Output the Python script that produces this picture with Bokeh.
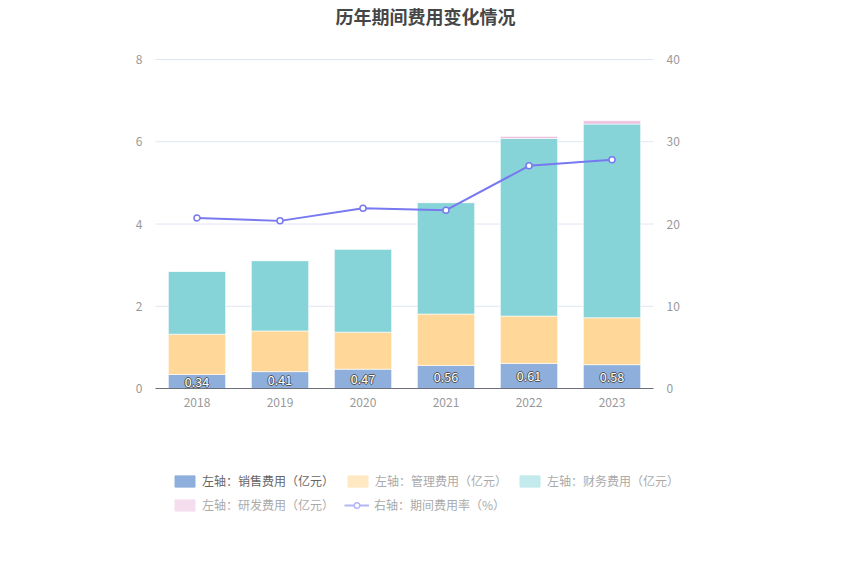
from bokeh.plotting import figure
from bokeh.models import (ColumnDataSource, Range1d, LinearAxis, Legend, LegendItem,
                          FixedTicker)
from bokeh.core.properties import value
from bokeh.embed import file_html
from bokeh.resources import INLINE

years = ["2018", "2019", "2020", "2021", "2022", "2023"]
sales = [0.34, 0.41, 0.47, 0.56, 0.61, 0.58]
mgmt = [0.98, 0.99, 0.90, 1.25, 1.15, 1.14]
finance = [1.53, 1.71, 2.02, 2.71, 4.32, 4.71]
rnd = [0.0, 0.0, 0.0, 0.01, 0.05, 0.08]
rate = [20.74, 20.38, 21.92, 21.68, 27.07, 27.80]
sales_labels = ["0.34", "0.41", "0.47", "0.56", "0.61", "0.58"]

left_ticks = [0, 2, 4, 6, 8]
right_ticks = [0, 10, 20, 30, 40]

names = ["sales", "mgmt", "finance", "rnd"]
colors = ["#8EAEDC", "#FFD899", "#87D4D8", "#EBC0E0"]
faded = ["#8EAEDC", "#FFE8C2", "#C3EAEC", "#F3DDEE"]
labels = ["左轴：销售费用（亿元）", "左轴：管理费用（亿元）", "左轴：财务费用（亿元）",
          "左轴：研发费用（亿元）", "右轴：期间费用率（%）"]
line_color = "#7878F0"
FONT = "Noto Sans CJK SC"

n = len(years)
xs = list(range(n))
src = ColumnDataSource(dict(x=xs, sales=sales, mgmt=mgmt, finance=finance, rnd=rnd,
                            rate=rate, lab=sales_labels,
                            laby=[s / 2 for s in sales]))

# layout (pixels): category band 83 wide starting at x=155; value axis 0 at y=388, max at y=59
BAND = 83.0
W, H = 842, 560
TOP = 28            # frame top (below the title)
AX_TOP, AX_BOT = 59, 388
x_lo = -0.5 - 155 / BAND
x_hi = x_lo + W / BAND
lmax, rmax = left_ticks[-1], right_ticks[-1]
lpx = (AX_BOT - AX_TOP) / lmax
rpx = (AX_BOT - AX_TOP) / rmax
y_lo, y_hi = -(H - AX_BOT) / lpx, lmax + (AX_TOP - TOP) / lpx
r_lo, r_hi = -(H - AX_BOT) / rpx, rmax + (AX_TOP - TOP) / rpx

p = figure(width=W, height=H, x_range=Range1d(x_lo, x_hi),
           y_range=Range1d(y_lo, y_hi), output_backend="svg", toolbar_location=None,
           min_border_left=0, min_border_right=0, min_border_top=TOP,
           min_border_bottom=0)
p.title.text = "历年期间费用变化情况"
p.title.align = "left"
p.title.offset = 335
p.title.text_font = FONT
p.title.text_font_size = "18px"
p.title.text_color = "#464646"
p.title.standoff = 0
p.outline_line_color = None
p.background_fill_color = "white"
p.xgrid.visible = False
p.ygrid.visible = False

p.extra_y_ranges = {"right": Range1d(r_lo, r_hi), "hidden": Range1d(1000, 1001)}

# grid lines across the category area
grid_src = ColumnDataSource(dict(y=left_ticks[1:]))
p.segment(x0=-0.5, x1=n - 0.5, y0="y", y1="y", source=grid_src,
          line_color="#E0E6F1", line_width=1)

bars = p.vbar_stack(names, x="x", width=0.69, color=colors, source=src,
                    line_color="white", line_alpha=0.6, line_width=1)

line = p.line("x", "rate", source=src, y_range_name="right", color=line_color,
              line_width=2)
pts = p.scatter("x", "rate", source=src, y_range_name="right", size=6,
                line_color=line_color, fill_color="white", line_width=1.5)

# bar labels with dark outline
for dx, dy in [(-1, 0), (1, 0), (0, -1), (0, 1)]:
    p.text("x", "laby", text="lab", source=src, text_align="center",
           text_baseline="middle", text_font=value(FONT), text_font_size="12.5px",
           text_color="#555555", x_offset=dx, y_offset=dy)
p.text("x", "laby", text="lab", source=src, text_align="center",
       text_baseline="middle", text_font=value(FONT), text_font_size="12.5px",
       text_color="white")

# axes
p.yaxis.ticker = FixedTicker(ticks=left_ticks)
p.yaxis.fixed_location = -0.5
ax_r = LinearAxis(y_range_name="right", ticker=FixedTicker(ticks=right_ticks),
                  fixed_location=n - 0.5)
p.add_layout(ax_r, "right")
for ax in [p.yaxis[0], ax_r]:
    ax.axis_line_color = None
    ax.major_tick_line_color = None
    ax.minor_tick_line_color = None
    ax.major_label_text_color = "#999999"
    ax.major_label_text_font = FONT
    ax.major_label_text_font_size = "12px"
    ax.major_label_standoff = 7
p.xaxis.fixed_location = 0
p.xaxis.bounds = (-0.5, n - 0.5)
p.xaxis.ticker = FixedTicker(ticks=xs)
p.xaxis.major_label_overrides = {i: y for i, y in enumerate(years)}
p.xaxis.axis_line_color = "#6E7079"
p.xaxis.major_tick_line_color = None
p.xaxis.minor_tick_line_color = None
p.xaxis.major_label_text_color = "#999999"
p.xaxis.major_label_text_font = FONT
p.xaxis.major_label_text_font_size = "12px"
p.xaxis.major_label_standoff = 3

# legend proxies: faded copies drawn on a range where they fall outside the frame
proxies = []
for i in range(4):
    r = p.vbar(x="x", top=names[i], width=0.5, source=src, y_range_name="hidden",
               color=faded[i])
    proxies.append(r)
lp_line = p.line("x", "rate", source=src, y_range_name="hidden",
                 color="#B4B4F8", line_width=2)
lp_pt = p.scatter("x", "rate", source=src, y_range_name="hidden", size=10,
                  line_color="#B4B4F8", fill_color="white", line_width=1.5)


def mk_legend(items, loc, text_color):
    lg = Legend(items=items, location=loc, orientation="horizontal",
                label_text_font=FONT, label_text_font_size="12px",
                label_text_color=text_color, glyph_width=25, glyph_height=14,
                label_standoff=5, spacing=10, padding=0, margin=0,
                border_line_color=None, background_fill_alpha=0,
                label_height=14)
    p.add_layout(lg, "center")
    return lg


# location = bottom-left of the legend, pixels from the frame's bottom-left
mk_legend([LegendItem(label=labels[0], renderers=[proxies[0]])], (172, 71), "#666666")
mk_legend([LegendItem(label=labels[1], renderers=[proxies[1]]),
           LegendItem(label=labels[2], renderers=[proxies[2]])], (345, 71), "#AAAAAA")
mk_legend([LegendItem(label=labels[3], renderers=[proxies[3]]),
           LegendItem(label=labels[4], renderers=[lp_line, lp_pt])], (172, 47), "#AAAAAA")

open("out.html", "w").write(file_html(p, INLINE))
